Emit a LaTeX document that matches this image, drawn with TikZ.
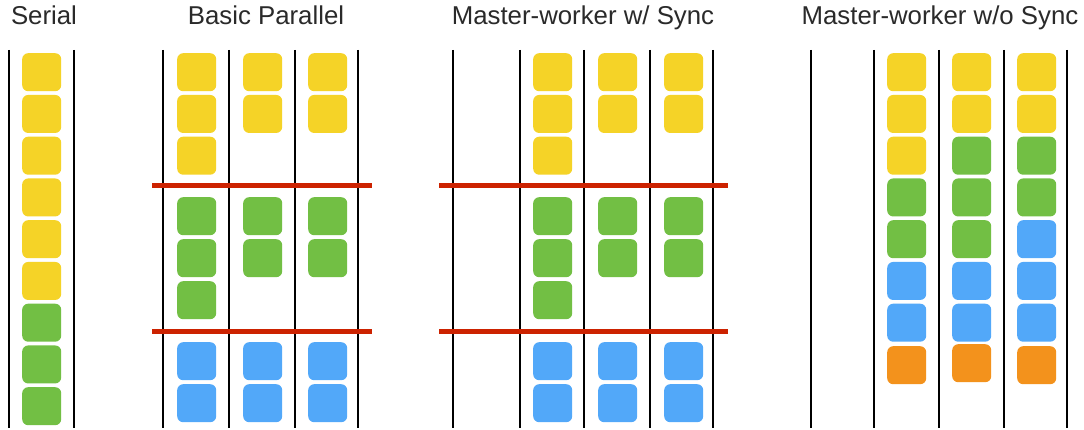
\documentclass[tikz,border=0pt]{standalone}
\usepackage{fontspec}
\setmainfont{Liberation Sans}
\definecolor{cy}{HTML}{F5D327}
\definecolor{cg}{HTML}{72BF44}
\definecolor{cb}{HTML}{52A8F9}
\definecolor{co}{HTML}{F3921C}
\definecolor{cr}{HTML}{CC2200}
\definecolor{ct}{HTML}{2A2A2A}
\tikzset{
  tb/.style={anchor=north west,minimum width=39pt,minimum height=38pt,inner sep=0pt,rounded corners=6pt},
  lane/.style={line width=2.4pt,black},
  sync/.style={line width=5pt,cr},
  ttl/.style={font=\fontsize{25.8}{30}\selectfont,text=ct,anchor=base}
}
\begin{document}
\begin{tikzpicture}[x=1pt,y=-1pt]
\fill[white] (0,0) rectangle (1084,430);
\useasboundingbox (0,0) rectangle (1084,430);
% titles
\node[ttl] (t1) at (44,25) {Serial};
\node[ttl] (t2) at (266,25) {Basic Parallel};
\node[ttl] (t3) at (583,25) {Master-worker w/ Sync};
\node[ttl] (t4) at (940,25) {Master-worker w/o Sync};
% lanes
\foreach \x in {9,74,163,229,295,358,453,520,584,650,713,811,874,939,1004,1067}
  \draw[lane] (\x,50) -- (\x,428);
% sync lines
\draw[sync] (152,186) -- (372,186);
\draw[sync] (152,331) -- (372,331);
\draw[sync] (439,186) -- (728,186);
\draw[sync] (439,331) -- (728,331);
% serial
\foreach \c [count=\i from 0] in {cy,cy,cy,cy,cy,cy,cg,cg,cg}
  \node[tb,fill=\c] (s\i) at (22,53+41.75*\i) {};
% basic parallel and master-worker w/ sync
\foreach \p/\xa/\xb/\xc in {bp/177/243/308,ms/533/598/664}{
  \foreach \i in {0,1,2} \node[tb,fill=cy] (\p a\i) at (\xa,53+41.75*\i) {};
  \foreach \i in {0,1} \node[tb,fill=cy] (\p b\i) at (\xb,53+41.75*\i) {};
  \foreach \i in {0,1} \node[tb,fill=cy] (\p c\i) at (\xc,53+41.75*\i) {};
  \foreach \i in {0,1,2} \node[tb,fill=cg] (\p ga\i) at (\xa,197+42*\i) {};
  \foreach \i in {0,1} \node[tb,fill=cg] (\p gb\i) at (\xb,197+42*\i) {};
  \foreach \i in {0,1} \node[tb,fill=cg] (\p gc\i) at (\xc,197+42*\i) {};
  \foreach \i in {0,1} \node[tb,fill=cb] (\p ba\i) at (\xa,342+42*\i) {};
  \foreach \i in {0,1} \node[tb,fill=cb] (\p bb\i) at (\xb,342+42*\i) {};
  \foreach \i in {0,1} \node[tb,fill=cb] (\p bc\i) at (\xc,342+42*\i) {};
}
% master-worker w/o sync
\foreach \c [count=\i from 0] in {cy,cy,cy,cg,cg,cb,cb}
  \node[tb,fill=\c] (na\i) at (887,53+41.75*\i) {};
\node[tb,fill=co] (na7) at (887,346) {};
\foreach \c [count=\i from 0] in {cy,cy,cg,cg,cg,cb,cb}
  \node[tb,fill=\c] (nb\i) at (952,53+41.75*\i) {};
\node[tb,fill=co] (nb7) at (952,344) {};
\foreach \c [count=\i from 0] in {cy,cy,cg,cg,cb,cb,cb}
  \node[tb,fill=\c] (nc\i) at (1017,53+41.75*\i) {};
\node[tb,fill=co] (nc7) at (1017,346) {};
\end{tikzpicture}
\end{document}
